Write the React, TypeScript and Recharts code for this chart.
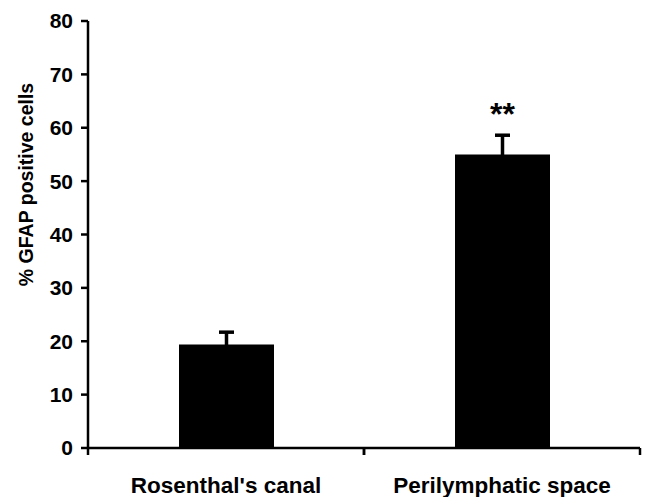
import React from "react";
import { BarChart, Bar, XAxis, YAxis, ErrorBar, LabelList } from "recharts";

const categories = ["Rosenthal's canal", "Perilymphatic space"];
const values = [19.4, 55.0];
const errors = [2.3, 3.6];
const significance = ["", "**"];
const yTicks = [0, 10, 20, 30, 40, 50, 60, 70, 80];

const data = categories.map((name, i) => ({
  name,
  value: values[i],
  err: errors[i],
  sig: significance[i],
}));

const FONT = "'Liberation Sans', Arial, Helvetica, sans-serif";

const XTick = (props: any) => {
  const { x, y, payload } = props;
  const half = payload && payload.offset ? payload.offset : 0;
  return (
    <g>
      <line x1={x - half} y1={y} x2={x - half} y2={y + 7} stroke="#000" strokeWidth={2.5} />
      <line x1={x + half} y1={y} x2={x + half} y2={y + 7} stroke="#000" strokeWidth={2.5} />
      <text
        x={x}
        y={y + 29}
        dy="0.71em"
        textAnchor="middle"
        fontFamily={FONT}
        fontWeight="bold"
        fontSize={22.5}
        fill="#000"
      >
        {payload.value}
      </text>
    </g>
  );
};

const YLabel = (props: any) => {
  const vb = props.viewBox || {};
  const cx = vb.x + 5;
  const cy = vb.y + vb.height / 2 - 50;
  return (
    <text
      x={cx}
      y={cy}
      transform={`rotate(-90, ${cx}, ${cy})`}
      textAnchor="middle"
      fontFamily={FONT}
      fontWeight="bold"
      fontSize={19.5}
      fill="#000"
    >
      % GFAP positive cells
    </text>
  );
};

export default function App() {
  return (
    <div style={{ position: "absolute", left: 0, top: 0, background: "#fff" }}>
      <BarChart
        width={647}
        height={497}
        data={data}
        margin={{ top: 21, right: 7, bottom: 0, left: 28 }}
      >
        <XAxis
          dataKey="name"
          height={49}
          tickLine={false}
          tickSize={0}
          tickMargin={0}
          axisLine={{ stroke: "#000", strokeWidth: 2.5 }}
          tick={<XTick />}
          interval={0}
        />
        <YAxis
          width={60}
          domain={[0, 80]}
          ticks={yTicks}
          interval={0}
          tickSize={7}
          tickMargin={8}
          axisLine={{ stroke: "#000", strokeWidth: 2.5 }}
          tickLine={{ stroke: "#000", strokeWidth: 2.5 }}
          tick={{ fill: "#000", fontFamily: FONT, fontWeight: "bold", fontSize: 21 }}
          label={<YLabel />}
        />
        <Bar dataKey="value" fill="#000" barSize={95} isAnimationActive={false}>
          <ErrorBar dataKey="err" width={7.5} strokeWidth={3.5} stroke="#000" direction="y" />
          <LabelList
            dataKey="sig"
            position="top"
            offset={29}
            fill="#000"
            fontFamily={FONT}
            fontWeight="bold"
            fontSize={32}
          />
        </Bar>
      </BarChart>
    </div>
  );
}
